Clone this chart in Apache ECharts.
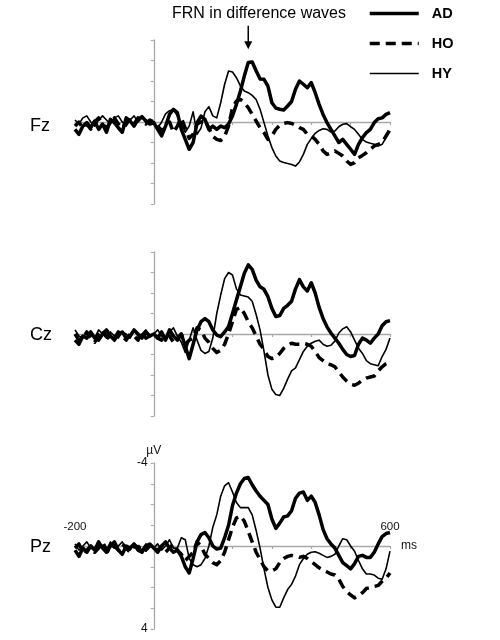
<!DOCTYPE html>
<html><head><meta charset="utf-8">
<script src="https://cdn.jsdelivr.net/npm/echarts@6/dist/echarts.min.js"></script>
<style>html,body{margin:0;padding:0;background:#fff}#c{width:500px;height:640px}</style>
</head><body><div id="c"></div>
<script>
// time points (ms)
const times = [-200,-190,-180,-170,-160,-150,-140,-130,-120,-110,-100,-90,-80,-70,-60,-50,-40,-30,-20,-10,0,
10,20,30,40,50,60,70,80,90,100,110,120,130,140,150,160,170,180,190,200,
210,220,230,240,250,260,270,280,290,300,310,320,330,340,350,360,370,380,390,400,
410,420,430,440,450,460,470,480,490,500,510,520,530,540,550,560,570,580,590,600];

// µV values (negative plotted upward)
const fzAD = [0.36,0.6,0.2,0.03,0.28,-0.05,0.36,0.1,0.5,-0.13,0.03,0.28,0.5,-0.2,-0.05,0.2,-0.13,-0.26,-0.05,0.1,0.03,
0.36,0.68,0.2,-0.37,-0.62,-0.46,0.36,0.85,1.33,1.0,
0.03,-0.29,-0.13,0.36,0.2,0.36,0.2,0.28,0.1,-0.29,
-0.86,-1.5,-2.24,-2.9,-2.93,-2.5,-2.1,-2.08,-1.75,-0.94,
-0.68,-0.62,-0.59,-0.78,-1.0,-1.6,-2.0,-1.84,-1.67,-1.92,
-1.43,-0.86,-0.37,0.03,0.36,0.68,1.0,0.85,1.09,1.33,
1.58,1.09,0.76,0.52,0.36,0.03,-0.16,-0.2,-0.37,-0.46];
const fzHO = [0.2,0.0,0.3,0.1,0.35,0.0,-0.2,0.1,0.3,0.0,-0.2,0.1,0.3,0.0,-0.1,0.1,-0.2,0.0,0.1,-0.1,0.0,
0.2,0.4,0.3,0.0,0.5,0.2,-0.2,0.3,0.8,0.6,
0.1,0.0,-0.1,0.3,0.7,0.85,0.9,0.7,0.2,-0.7,
-1.02,-1.1,-0.94,-0.7,-0.37,-0.05,0.28,0.52,0.85,0.68,
0.36,0.16,0.07,0.03,0.07,0.16,0.28,0.36,0.6,0.68,
0.85,1.09,1.41,1.58,1.5,1.41,1.53,1.66,1.9,2.07,
1.98,1.74,1.63,1.5,1.33,1.17,1.09,1.0,0.68,0.36];
const fzHY = [-0.1,0.1,-0.2,-0.3,0.0,0.2,-0.1,-0.3,-0.1,0.1,-0.2,-0.3,0.0,0.2,-0.1,-0.3,0.0,-0.2,-0.1,0.0,0.1,
0.3,0.0,-0.4,-0.55,-0.6,-0.3,0.1,0.5,0.2,-0.5,
0.6,0.3,-0.5,-0.75,-0.3,-0.2,-0.94,-1.84,-2.49,-2.44,
-2.16,-1.76,-1.51,-1.43,-1.3,-1.1,-0.62,0.03,0.68,1.25,
1.66,1.9,1.98,2.02,2.07,2.15,1.95,1.58,1.09,0.81,
0.55,0.41,0.33,0.36,0.49,0.44,0.23,0.11,0.08,0.23,
0.36,0.6,0.85,0.98,1.04,1.09,1.17,1.09,0.76,0.44];

const czAD = [0.3,0.5,0.1,0.2,-0.1,0.2,0.3,0.0,-0.2,0.1,0.3,0.0,-0.1,0.2,0.1,-0.2,0.0,0.2,-0.1,0.1,0.0,
0.2,-0.1,0.3,-0.2,0.1,0.3,0.0,0.6,1.2,0.5,
-0.2,-0.6,-0.75,-0.6,-0.2,0.05,0.13,-0.1,-0.36,-1.0,
-1.66,-2.3,-2.96,-3.37,-3.15,-2.63,-2.3,-2.18,-1.82,-1.25,
-0.85,-0.9,-1.25,-1.4,-1.6,-2.2,-2.65,-2.3,-2.1,-2.5,
-2.0,-1.3,-0.76,-0.35,-0.05,0.2,0.45,0.75,1.0,1.1,
1.05,0.5,0.2,0.3,0.45,0.2,0.0,-0.4,-0.6,-0.65];
const czHO = [0.0,0.3,0.2,-0.1,0.2,0.4,0.0,-0.2,0.1,0.3,0.2,-0.1,0.1,0.3,0.0,0.1,0.3,-0.1,0.2,0.1,0.0,
0.2,0.3,0.0,0.1,0.4,0.2,0.0,0.5,0.3,0.2,
-0.3,-0.2,0.2,0.4,0.7,0.9,0.8,0.5,0.0,-0.6,
-1.2,-1.3,-1.0,-0.6,-0.3,0.1,0.5,0.75,1.1,1.2,
1.15,0.95,0.7,0.55,0.45,0.5,0.5,0.45,0.5,0.6,
0.85,1.15,1.3,1.45,1.5,1.6,1.85,2.1,2.3,2.45,
2.5,2.4,2.25,2.15,2.1,2.05,1.8,1.6,1.45,1.35];
const czHY = [-0.2,0.1,0.2,-0.1,0.0,0.2,-0.2,0.0,0.2,-0.1,0.1,0.2,-0.1,0.0,0.2,-0.2,0.1,0.0,-0.2,0.1,0.0,
-0.2,0.1,0.3,-0.1,-0.3,0.1,0.4,0.9,0.3,-0.3,
0.3,0.8,0.95,0.85,0.2,-1.0,-1.9,-2.7,-3.0,-2.88,
-2.2,-1.9,-1.85,-1.8,-1.6,-0.95,-0.2,0.85,2.0,2.7,
2.95,3.0,2.65,2.2,1.8,1.65,1.25,0.85,0.6,0.45,
0.35,0.3,0.5,0.6,0.55,0.35,-0.05,-0.25,-0.35,-0.1,
0.3,0.7,0.95,1.3,1.45,1.5,1.55,1.1,0.75,0.2];

const pzAD = [0.2,0.5,0.1,0.3,0.0,0.2,-0.2,0.1,0.3,0.0,-0.2,0.2,0.4,0.0,0.1,-0.1,0.2,0.3,0.0,-0.1,0.1,
0.3,0.0,-0.2,0.1,0.3,0.2,0.5,1.0,1.3,0.6,
-0.2,-0.55,-0.65,-0.4,0.0,0.15,0.1,-0.4,-1.0,-1.95,
-2.55,-3.0,-3.25,-3.3,-2.95,-2.65,-2.4,-2.2,-2.0,-1.3,
-0.85,-1.1,-1.4,-1.45,-1.7,-2.3,-2.55,-2.6,-2.2,-2.4,
-2.1,-1.5,-0.8,-0.35,-0.1,0.1,0.45,0.8,0.95,1.1,
0.85,0.5,0.45,0.55,0.55,0.3,-0.1,-0.45,-0.6,-0.65];
const pzHO = [0.1,-0.1,0.3,0.2,0.0,0.3,0.1,-0.2,0.2,0.3,0.0,0.2,-0.1,0.1,0.3,0.0,0.1,-0.1,0.2,0.0,0.1,
0.2,0.0,0.3,0.1,-0.1,0.2,0.4,0.7,0.5,0.3,
-0.2,0.0,0.4,0.6,0.8,0.9,0.7,0.3,-0.3,-0.9,
-1.35,-1.45,-1.2,-0.7,-0.2,0.3,0.65,1.0,1.2,1.2,
1.1,0.8,0.6,0.5,0.45,0.5,0.55,0.5,0.6,0.75,
0.9,1.05,1.15,1.25,1.35,1.4,1.6,1.95,2.2,2.35,
2.5,2.4,2.25,2.05,2.0,1.95,1.9,1.7,1.55,1.3];
const pzHY = [-0.1,0.2,0.0,-0.2,0.1,0.2,-0.1,0.0,0.2,-0.2,0.1,0.0,-0.2,0.1,0.2,-0.1,0.0,0.2,-0.1,0.0,0.1,
-0.1,0.2,0.0,-0.3,0.1,0.1,-0.4,-0.3,0.6,0.9,
1.0,0.9,0.6,0.0,-0.9,-1.5,-2.4,-2.9,-3.05,-2.6,
-2.1,-1.85,-1.85,-1.85,-1.5,-0.75,0.1,1.1,2.0,2.6,
2.95,2.95,2.5,2.1,1.85,1.45,0.9,0.6,0.4,0.3,
0.28,0.35,0.45,0.55,0.5,0.4,0.0,-0.35,-0.3,0.0,
0.25,0.7,1.1,1.35,1.35,1.4,1.55,1.6,1.1,0.25];

const channels = ['Fz','Cz','Pz'];
const groups = ['AD','HO','HY'];
const waves = [[fzAD,fzHO,fzHY],[czAD,czHO,czHY],[pzAD,pzHO,pzHY]];
const xTickLabels = [-200, 600];
const yTickLabels = [-4, 4];
const annotationText = 'FRN in difference waves';
const arrowTime = 240;

const FONT = '"Liberation Sans", Arial, sans-serif';
const AXIS_COLOR = '#a8a8a8';
const GRID_LEFT = 75, GRID_WIDTH = 315;
const gridTops = [40, 252, 463];
const gridHeights = [164, 164, 166];
const labelTops = [117, 326, 538];
const X_MIN = -200, X_MAX = 600;

const styles = {
  AD: {width: 3.5, type: 'solid'},
  HO: {width: 3.5, type: [10, 6]},
  HY: {width: 1.6, type: 'solid'}
};

const grids = [], xAxes = [], yAxes = [], series = [], titles = [];
channels.forEach((ch, i) => {
  const isLast = i === channels.length - 1;
  grids.push({left: GRID_LEFT, width: GRID_WIDTH, top: gridTops[i], height: gridHeights[i]});
  // axes cross at (0 ms, 0 µV): shift them into the grid by the scale offset
  const yOffset = -GRID_WIDTH * (0 - X_MIN) / (X_MAX - X_MIN);
  const xOffset = -gridHeights[i] / 2;
  xAxes.push({
    gridIndex: i, type: 'value', min: X_MIN, max: X_MAX, interval: 100,
    position: 'bottom', offset: xOffset,
    axisLine: {show: true, onZero: false, lineStyle: {color: AXIS_COLOR, width: 1.3}},
    axisTick: {show: true, length: 3, lineStyle: {color: AXIS_COLOR, width: 1.2}},
    splitLine: {show: false},
    axisLabel: isLast ? {show: true, inside: true, margin: 13, color: '#111', fontSize: 11.5, fontFamily: FONT,
      showMinLabel: true, showMaxLabel: true,
      formatter: v => xTickLabels.includes(v) ? String(v) : ''} : {show: false},
    name: isLast ? 'ms' : '', nameLocation: 'end', nameGap: 11,
    nameTextStyle: {color: '#111', fontSize: 12, fontFamily: FONT, padding: [4, 0, 0, 0]}
  });
  yAxes.push({
    gridIndex: i, type: 'value', min: -4, max: 4, interval: 1, inverse: true,
    position: 'left', offset: yOffset,
    axisLine: {show: true, onZero: false, lineStyle: {color: AXIS_COLOR, width: 1.3}},
    axisTick: {show: true, length: 3, lineStyle: {color: AXIS_COLOR, width: 1.2}},
    splitLine: {show: false},
    axisLabel: isLast ? {show: true, margin: 6, color: '#111', fontSize: 12, fontFamily: FONT,
      showMinLabel: true, showMaxLabel: true, padding: [3, 0, 0, 0],
      formatter: v => yTickLabels.includes(v) ? String(v) : ''} : {show: false},
    name: isLast ? 'µV' : '', nameLocation: 'start', nameGap: 4,
    nameTextStyle: {color: '#111', fontSize: 12, fontFamily: FONT}
  });
  titles.push({text: ch, left: 30, top: labelTops[i], padding: 0,
    textStyle: {fontSize: 18, fontWeight: 'normal', color: '#000', fontFamily: FONT}});
  groups.forEach((g, k) => {
    series.push({
      type: 'line', name: g, xAxisIndex: i, yAxisIndex: i,
      data: times.map((t, j) => [t, waves[i][k][j]]),
      symbol: 'none', color: '#000', smooth: false,
      lineStyle: {color: '#000', width: styles[g].width, type: styles[g].type, cap: 'butt', join: 'round'},
      z: 3 - k
    });
  });
});
titles.push({text: annotationText, left: 172, top: 6, padding: 0,
  textStyle: {fontSize: 16, fontWeight: 'normal', color: '#000', fontFamily: FONT}});

const chart = echarts.init(document.getElementById('c'), null, {renderer: 'canvas'});
chart.setOption({
  animation: false,
  backgroundColor: '#fff',
  title: titles,
  legend: {
    orient: 'vertical', left: 363, top: 1, itemWidth: 49, itemHeight: 14, itemGap: 15,
    itemStyle: {opacity: 0},
    data: groups.map(g => ({name: g, lineStyle: {width: styles[g].width}})),
    textStyle: {fontSize: 14.5, fontWeight: 'bold', color: '#000', fontFamily: FONT, padding: [0, 0, 0, 8]}
  },
  grid: grids, xAxis: xAxes, yAxis: yAxes, series: series
});

// arrow pointing at the FRN peak in Fz panel
const pTop = chart.convertToPixel({gridIndex: 0}, [arrowTime, -4.7]);
const pBot = chart.convertToPixel({gridIndex: 0}, [arrowTime, -3.55]);
chart.setOption({
  graphic: [
    {type: 'line', shape: {x1: pTop[0], y1: pTop[1], x2: pBot[0], y2: pBot[1] - 7}, style: {stroke: '#000', lineWidth: 1.5}},
    {type: 'polygon', shape: {points: [[pBot[0] - 4, pBot[1] - 8], [pBot[0] + 4, pBot[1] - 8], [pBot[0], pBot[1]]]}, style: {fill: '#000'}}
  ]
});
</script></body></html>
